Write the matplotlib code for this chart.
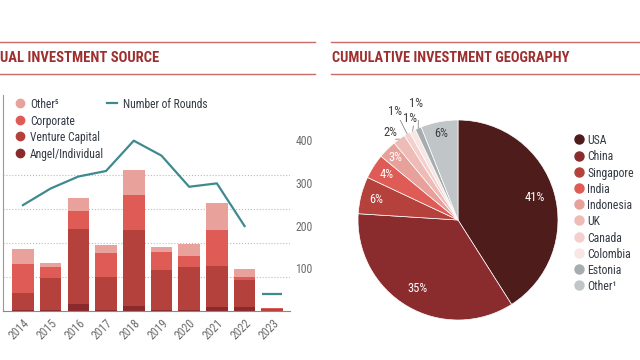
import matplotlib.pyplot as plt
from matplotlib import font_manager
from matplotlib.lines import Line2D
import numpy as np

names = {f.name for f in font_manager.fontManager.ttflist}
base_font = 'Roboto Condensed' if 'Roboto Condensed' in names else 'Roboto'
plt.rcParams['font.family'] = [base_font, 'DejaVu Sans']

# ---- data ----
years = ['2014', '2015', '2016', '2017', '2018', '2019', '2020', '2021', '2022', '2023']
angel = [0.02, 0.02, 0.21, 0.02, 0.15, 0.02, 0.02, 0.11, 0.13, 0.00]
venture = [0.50, 0.96, 2.21, 0.99, 2.23, 1.19, 1.28, 1.21, 0.78, 0.06]
corporate = [0.85, 0.31, 0.52, 0.69, 1.03, 0.52, 0.31, 1.06, 0.09, 0.03]
other = [0.44, 0.11, 0.37, 0.23, 0.73, 0.14, 0.35, 0.79, 0.24, 0.00]
rounds = [248, 287, 315, 328, 399, 364, 291, 299, 199, 39]

countries = ['USA', 'China', 'Singapore', 'India', 'Indonesia', 'UK', 'Canada',
             'Colombia', 'Estonia', 'Other¹']
shares = [41, 35, 6, 4, 3, 2, 1, 1, 1, 6]

c_angel, c_vc, c_corp, c_other = '#8b2a2d', '#b5413c', '#de5c55', '#e8a19b'
teal = '#3f8a8f'
pie_colors = ['#4f1c1c', '#8a2b2d', '#b5413c', '#de5c55', '#e8a09a', '#eebbb6',
              '#f3d0cd', '#f8e6e4', '#a7adaf', '#c0c6c8']
title_red = '#9e2f2f'
line_red = '#c96a66'
txt = '#333a44'
tick_gray = '#6d6d6d'

W, H = 640, 360
fig = plt.figure(figsize=(6.4, 3.6), dpi=100)


def fx(px):
    return px / W


def fy(py):
    return 1 - py / H


def legend_rows(labels, colors, x_mark, x_text, y0, step, size, msize):
    for i, (lab, c) in enumerate(zip(labels, colors)):
        y = y0 + i * step
        fig.add_artist(Line2D([fx(x_mark)], [fy(y)], marker='o', color=c,
                              markersize=msize, ls='none'))
        fig.text(fx(x_text), fy(y), lab, color=txt, fontsize=size,
                 va='center_baseline', ha='left')


# ---- headers ----
for x0, x1 in [(0, 315), (331, 640)]:
    for yy in (42, 74):
        fig.add_artist(Line2D([fx(x0), fx(x1)], [fy(yy)] * 2, color=line_red, lw=1.0))
fig.text(fx(0), fy(58), 'UAL INVESTMENT SOURCE', color=title_red,
         fontsize=10.5, fontweight='bold', va='center', ha='left')
fig.text(fx(332), fy(58), 'CUMULATIVE INVESTMENT GEOGRAPHY', color=title_red,
         fontsize=10.4, fontweight='bold', va='center', ha='left')

# ---- bar chart ----
ax = fig.add_axes([fx(3), fy(311), 287 / W, 216 / H])
x = np.arange(len(years))
w = 0.78
b1 = np.array(angel)
b2 = b1 + np.array(venture)
b3 = b2 + np.array(corporate)
ax.bar(x, angel, w, color=c_angel, zorder=2)
ax.bar(x, venture, w, bottom=b1, color=c_vc, zorder=2)
ax.bar(x, corporate, w, bottom=b2, color=c_corp, zorder=2)
ax.bar(x, other, w, bottom=b3, color=c_other, zorder=2)
ax.set_xlim(-0.72, 9.64)
ax.set_ylim(0, 6.35)
ax.set_yticks([1, 2, 3, 4])
ax.set_yticklabels([])
ax.tick_params(axis='y', length=0)
ax.grid(axis='y', linestyle=':', color='#bbbbbb', linewidth=0.8, zorder=0)
ax.set_xticks(x)
ax.set_xticklabels(years, rotation=45, ha='right', rotation_mode='anchor',
                   color=tick_gray, fontsize=8.5)
ax.tick_params(axis='x', length=0, pad=4)
for s in ['top', 'right']:
    ax.spines[s].set_visible(False)
ax.spines['left'].set_color('#999999')
ax.spines['bottom'].set_color('#888888')

ax2 = ax.twinx()
ax2.plot(x[:-1], rounds[:-1], color=teal, lw=1.6, zorder=3)
ax2.plot(x[-1:], rounds[-1:], color=teal, marker='_', markersize=15, mew=1.6, ls='none')
ax2.set_ylim(0, 506)
ax2.set_yticks([100, 200, 300, 400])
ax2.tick_params(axis='y', length=0, pad=4, labelcolor=tick_gray, labelsize=8.5)
for s in ax2.spines.values():
    s.set_visible(False)

legend_rows(['Other⁵', 'Corporate', 'Venture Capital', 'Angel/Individual'],
            [c_other, c_corp, c_vc, c_angel], 20, 30, 103, 16.7, 8.3, 6)
fig.add_artist(Line2D([fx(107), fx(117)], [fy(103)] * 2, color=teal, lw=1.6))
fig.text(fx(123), fy(103), 'Number of Rounds', color=txt, fontsize=8.3,
         va='center_baseline', ha='left')

# ---- pie chart ----
pax = fig.add_axes([fx(358), fy(320), 200 / W, 200 / H])
wedges, _ = pax.pie(shares, colors=pie_colors, startangle=90, counterclock=False,
                    radius=1, wedgeprops=dict(edgecolor='white', linewidth=0.5))
pax.set_xlim(-1, 1)
pax.set_ylim(-1, 1)

inside = {0: 0.8, 1: 0.8, 2: 0.84, 3: 0.85, 4: 0.88, 9: 0.88}
# label radius and angle shift (deg) for the small slices
outside = {5: (1.1, 1.7), 6: (1.25, -0.6), 7: (1.12, -1.6), 8: (1.24, -3.4)}
for i, wd in enumerate(wedges):
    ang = np.deg2rad((wd.theta1 + wd.theta2) / 2)
    lab = f'{shares[i]}%'
    if i in inside:
        r = inside[i]
        col = '#3d3d3d' if i == 9 else 'white'
        pax.text(r * np.cos(ang), r * np.sin(ang), lab, ha='center', va='center',
                 color=col, fontsize=9)
    else:
        r, shift = outside[i]
        a2 = ang + np.deg2rad(shift)
        pax.plot([np.cos(ang), (r - 0.08) * np.cos(a2)],
                 [np.sin(ang), (r - 0.08) * np.sin(a2)], color='#888888', lw=0.6)
        pax.text(r * np.cos(a2), r * np.sin(a2), lab, ha='center', va='center',
                 color='#3d3d3d', fontsize=9)

legend_rows(countries, pie_colors, 579, 587, 139.3, 16.2, 8.5, 6.5)

fig.savefig('out.png', dpi=100)
